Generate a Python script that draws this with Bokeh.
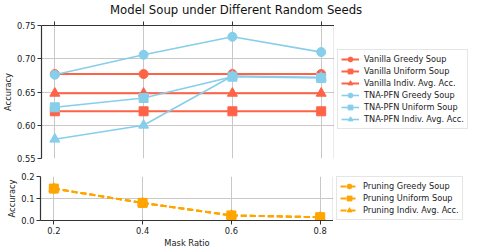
from bokeh.plotting import figure
from bokeh.layouts import column, row
from bokeh.models import (LinearAxis, FixedTicker, Grid, Legend, LegendItem,
                          PrintfTickFormatter, Range1d, Span, Div)
from bokeh.embed import file_html
from bokeh.resources import INLINE

# ---------------- data ----------------
mask_ratio = [0.2, 0.4, 0.6, 0.8]
vanilla_greedy = [0.677, 0.677, 0.677, 0.677]
vanilla_uniform = [0.621, 0.621, 0.621, 0.621]
vanilla_indiv = [0.648, 0.648, 0.648, 0.648]
tna_greedy = [0.676, 0.706, 0.733, 0.710]
tna_uniform = [0.627, 0.641, 0.673, 0.671]
tna_indiv = [0.579, 0.600, 0.674, 0.672]
pruning_greedy = [0.145, 0.080, 0.023, 0.015]
pruning_uniform = [0.145, 0.080, 0.023, 0.015]
pruning_indiv = [0.145, 0.080, 0.023, 0.015]

x_ticks = [0.2, 0.4, 0.6, 0.8]
top_y_ticks = [0.55, 0.60, 0.65, 0.70, 0.75]
bottom_y_ticks = [0.0, 0.1, 0.2]

TITLE = "Model Soup under Different Random Seeds"
FONT = "DejaVu Sans"
RED = "#FF6347"
BLUE = "#87CEEB"
ORANGE = "#FFA500"
SPINE = "#333333"
GRID = "#c8c8c8"
TICK_FS = "8.3px"
X_LO, X_HI = 0.17, 0.83

top_series = [
    ("Vanilla Greedy Soup", vanilla_greedy, RED, "circle"),
    ("Vanilla Uniform Soup", vanilla_uniform, RED, "square"),
    ("Vanilla Indiv. Avg. Acc.", vanilla_indiv, RED, "triangle"),
    ("TNA-PFN Greedy Soup", tna_greedy, BLUE, "circle"),
    ("TNA-PFN Uniform Soup", tna_uniform, BLUE, "square"),
    ("TNA-PFN Indiv. Avg. Acc.", tna_indiv, BLUE, "triangle"),
]
bottom_series = [
    ("Pruning Greedy Soup", pruning_greedy, ORANGE, "circle"),
    ("Pruning Uniform Soup", pruning_uniform, ORANGE, "square"),
    ("Pruning Indiv. Avg. Acc.", pruning_indiv, ORANGE, "triangle"),
]

MSIZE = {"circle": 9, "square": 9, "triangle": 10}
FRAME_W = 293
LEFT_W = 40
LEG_W = 135


def style_axis(ax):
    ax.axis_line_color = SPINE
    ax.axis_line_width = 1.2
    ax.major_tick_line_color = SPINE
    ax.major_tick_in = 0
    ax.major_tick_out = 4
    ax.minor_tick_line_color = None
    ax.major_label_text_font = FONT
    ax.major_label_text_font_size = TICK_FS
    ax.major_label_text_color = "#222222"
    ax.major_label_standoff = 2
    ax.axis_label_text_font = FONT
    ax.axis_label_text_font_size = TICK_FS
    ax.axis_label_text_font_style = "normal"
    ax.axis_label_text_color = "#222222"
    ax.axis_label_standoff = 1


def draw_series(p, series, top):
    rs = []
    for label, vals, color, marker in series:
        dash = "solid" if top else "6 3"
        lr = p.line(mask_ratio, vals, line_color=color,
                    line_width=1.6 if color == BLUE else 2.0, line_dash=dash)
        sr = p.scatter(mask_ratio, vals, marker=marker, size=MSIZE[marker],
                       fill_color=color, line_color=color)
        rs.append((label, lr, sr))
    return rs


def make_panel(yr, fh, bt, bb, ytick, yfmt, series, top, leg_gap):
    p = figure(x_range=Range1d(X_LO, X_HI), y_range=Range1d(*yr),
               frame_width=FRAME_W, frame_height=fh,
               x_axis_type=None, y_axis_type=None,
               output_backend="svg", toolbar_location=None,
               min_border_left=LEFT_W, min_border_right=0,
               min_border_top=bt, min_border_bottom=bb,
               outline_line_color=None, background_fill_color="white",
               border_fill_color="white")
    xt = FixedTicker(ticks=x_ticks)
    yt = FixedTicker(ticks=ytick)
    p.add_layout(Grid(dimension=0, ticker=xt, grid_line_color=GRID, grid_line_width=1))
    p.add_layout(Grid(dimension=1, ticker=yt, grid_line_color=GRID, grid_line_width=1))

    yax = LinearAxis(ticker=yt, formatter=PrintfTickFormatter(format=yfmt),
                     axis_label="Accuracy")
    style_axis(yax)
    p.add_layout(yax, "left")

    if top:
        tax = LinearAxis(ticker=xt, major_label_overrides={t: "" for t in x_ticks})
        style_axis(tax)
        tax.major_label_standoff = 0
        p.add_layout(tax, "above")
    else:
        bax = LinearAxis(ticker=xt, formatter=PrintfTickFormatter(format="%.1f"),
                         axis_label="Mask Ratio")
        style_axis(bax)
        p.add_layout(bax, "below")

    p.add_layout(Span(location=X_HI, dimension="height", line_color=SPINE,
                      line_width=1.2))
    draw_series(p, series, top)

    # legend panel: same series, ranges chosen so only the legend shows
    lf = figure(x_range=Range1d(10, 11), y_range=Range1d(10, 11),
                frame_width=LEG_W, frame_height=fh,
                x_axis_type=None, y_axis_type=None,
                output_backend="svg", toolbar_location=None,
                min_border_left=0, min_border_right=0,
                min_border_top=bt, min_border_bottom=bb,
                outline_line_color=None, background_fill_color="white",
                border_fill_color="white")
    rs = draw_series(lf, series, top)
    items = [LegendItem(label=l, renderers=[a, b]) for l, a, b in rs]
    n = len(items)
    leg_h = 2 * 3 + 12 * n
    leg = Legend(items=items, location=(3, fh - leg_gap - leg_h),
                 label_text_font=FONT, label_text_font_size="8.2px",
                 label_text_color="#222222",
                 label_height=12, glyph_height=12, glyph_width=18,
                 label_standoff=5, spacing=0, padding=3, margin=0,
                 border_line_color="#cccccc", border_line_width=1,
                 background_fill_color="white", background_fill_alpha=1.0)
    lf.add_layout(leg, "center")
    return row(p, lf, spacing=0)


title = Div(text=TITLE, width=LEFT_W + FRAME_W + LEG_W, height=21, margin=0,
            styles={"font-family": FONT, "font-size": "11.7px",
                    "line-height": "21px", "text-align": "left",
                    "padding-left": "110px", "box-sizing": "border-box",
                    "color": "#111111", "white-space": "nowrap"})
r1 = make_panel((0.55, 0.75), 133, 4, 9, top_y_ticks, "%.2f", top_series, True, 26)
r2 = make_panel((0.0, 0.2), 44, 9, 28, bottom_y_ticks, "%.1f", bottom_series, False, 2)

layout = column(title, r1, r2, spacing=0)
open("out.html", "w").write(file_html(layout, INLINE))
